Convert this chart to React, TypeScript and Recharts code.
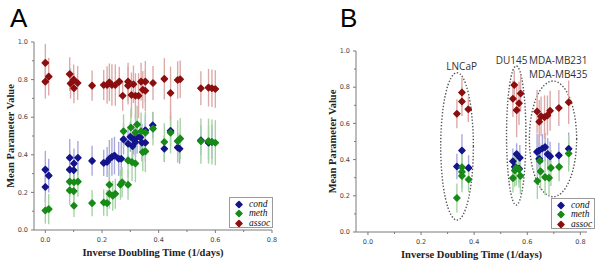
import React from 'react';
import { ScatterChart, Scatter, XAxis, YAxis, ErrorBar, Legend, ReferenceArea, ReferenceDot } from 'recharts';

// ---- Panel A: all cell lines ----
const condXA = [0.0, 0.0, 0.012, 0.086, 0.086, 0.1, 0.101, 0.115, 0.165, 0.206, 0.218, 0.226, 0.235, 0.244, 0.259, 0.268, 0.276, 0.292, 0.3, 0.308, 0.312, 0.318, 0.324, 0.335, 0.341, 0.353, 0.353, 0.379, 0.42, 0.442, 0.467, 0.474, 0.549, 0.576, 0.588];
const condYA = [0.321, 0.229, 0.289, 0.321, 0.384, 0.318, 0.354, 0.384, 0.368, 0.357, 0.362, 0.379, 0.389, 0.396, 0.379, 0.379, 0.482, 0.459, 0.496, 0.446, 0.482, 0.468, 0.496, 0.493, 0.464, 0.464, 0.53, 0.557, 0.432, 0.527, 0.439, 0.432, 0.477, 0.464, 0.468];
const condErrA = [0.1, 0.08, 0.09, 0.1, 0.1, 0.08, 0.08, 0.09, 0.08, 0.07, 0.08, 0.1, 0.1, 0.1, 0.09, 0.09, 0.08, 0.09, 0.08, 0.07, 0.08, 0.08, 0.09, 0.08, 0.1, 0.1, 0.08, 0.07, 0.07, 0.08, 0.08, 0.08, 0.08, 0.09, 0.09];

const methXA = [0.0, 0.012, 0.086, 0.086, 0.101, 0.1, 0.101, 0.115, 0.165, 0.206, 0.218, 0.226, 0.226, 0.238, 0.247, 0.265, 0.271, 0.276, 0.292, 0.292, 0.302, 0.306, 0.318, 0.318, 0.324, 0.338, 0.344, 0.353, 0.353, 0.38, 0.42, 0.442, 0.467, 0.476, 0.549, 0.576, 0.588, 0.6];
const methYA = [0.104, 0.111, 0.211, 0.257, 0.254, 0.207, 0.129, 0.257, 0.143, 0.146, 0.143, 0.241, 0.193, 0.182, 0.193, 0.241, 0.254, 0.525, 0.241, 0.37, 0.545, 0.361, 0.354, 0.518, 0.561, 0.525, 0.414, 0.518, 0.418, 0.539, 0.468, 0.518, 0.473, 0.486, 0.473, 0.473, 0.468, 0.464];
const methErrA = [0.07, 0.08, 0.08, 0.08, 0.08, 0.08, 0.06, 0.08, 0.07, 0.07, 0.07, 0.08, 0.08, 0.08, 0.08, 0.08, 0.08, 0.09, 0.08, 0.09, 0.1, 0.1, 0.1, 0.1, 0.1, 0.1, 0.1, 0.11, 0.11, 0.09, 0.1, 0.11, 0.11, 0.11, 0.12, 0.12, 0.12, 0.12];

const assocXA = [0.0, 0.0, 0.012, 0.086, 0.089, 0.1, 0.101, 0.114, 0.165, 0.206, 0.218, 0.226, 0.235, 0.247, 0.261, 0.273, 0.292, 0.292, 0.304, 0.311, 0.318, 0.329, 0.338, 0.344, 0.353, 0.353, 0.38, 0.42, 0.442, 0.467, 0.476, 0.549, 0.576, 0.588, 0.6];
const assocYA = [0.889, 0.789, 0.816, 0.829, 0.779, 0.8, 0.754, 0.782, 0.768, 0.771, 0.771, 0.786, 0.771, 0.771, 0.789, 0.714, 0.789, 0.768, 0.718, 0.775, 0.714, 0.714, 0.789, 0.746, 0.789, 0.741, 0.782, 0.804, 0.729, 0.798, 0.802, 0.754, 0.757, 0.754, 0.75];
const assocErrA = [0.1, 0.09, 0.1, 0.09, 0.08, 0.08, 0.08, 0.09, 0.08, 0.08, 0.1, 0.1, 0.11, 0.11, 0.08, 0.08, 0.1, 0.1, 0.12, 0.1, 0.12, 0.12, 0.1, 0.1, 0.11, 0.11, 0.09, 0.11, 0.14, 0.1, 0.1, 0.09, 0.1, 0.1, 0.1];

// ---- Panel B: prostate and breast lines ----
const condXB = [0.335, 0.354, 0.379, 0.546, 0.553, 0.56, 0.569, 0.572, 0.637, 0.645, 0.645, 0.657, 0.667, 0.677, 0.686, 0.719, 0.756];
const condYB = [0.362, 0.45, 0.354, 0.391, 0.36, 0.43, 0.35, 0.41, 0.443, 0.45, 0.404, 0.461, 0.469, 0.43, 0.418, 0.423, 0.46];
const condErrB = [0.07, 0.09, 0.07, 0.07, 0.08, 0.06, 0.08, 0.07, 0.1, 0.09, 0.09, 0.08, 0.08, 0.09, 0.08, 0.07, 0.09];

const methXB = [0.335, 0.354, 0.354, 0.354, 0.379, 0.546, 0.553, 0.559, 0.569, 0.574, 0.638, 0.647, 0.65, 0.667, 0.682, 0.689, 0.72, 0.756];
const methYB = [0.188, 0.358, 0.332, 0.31, 0.29, 0.298, 0.34, 0.356, 0.345, 0.31, 0.282, 0.393, 0.335, 0.303, 0.299, 0.354, 0.36, 0.434];
const methErrB = [0.08, 0.09, 0.09, 0.09, 0.07, 0.08, 0.09, 0.1, 0.1, 0.1, 0.1, 0.1, 0.1, 0.1, 0.1, 0.1, 0.08, 0.1];

const assocXB = [0.335, 0.354, 0.354, 0.378, 0.546, 0.551, 0.56, 0.569, 0.575, 0.637, 0.645, 0.652, 0.665, 0.676, 0.686, 0.719, 0.756];
const assocYB = [0.653, 0.721, 0.771, 0.678, 0.736, 0.812, 0.673, 0.711, 0.765, 0.666, 0.609, 0.639, 0.635, 0.644, 0.67, 0.685, 0.717];
const assocErrB = [0.08, 0.08, 0.08, 0.07, 0.1, 0.08, 0.15, 0.12, 0.1, 0.12, 0.12, 0.11, 0.12, 0.11, 0.11, 0.1, 0.12];

// dotted groupings in panel B
const groupX1 = [0.274, 0.522, 0.608];
const groupX2 = [0.397, 0.595, 0.786];
const groupY1 = [0.066, 0.149, 0.195];
const groupY2 = [0.88, 0.917, 0.834];

const groupLabels = ['LNCaP', 'DU145', 'MDA-MB231', 'MDA-MB435'];
const groupLabelX = [0.353, 0.541, 0.717, 0.717];
const groupLabelY = [0.913, 0.95, 0.95, 0.873];

const seriesNames = ['cond', 'meth', 'assoc'];
const xTicks = [0, 0.1, 0.2, 0.3, 0.4, 0.5, 0.6, 0.7, 0.8];
const yTicks = [0, 0.1, 0.2, 0.3, 0.4, 0.5, 0.6, 0.7, 0.8, 0.9, 1.0];

const COLORS: Record<string, string> = { cond: '#14148c', meth: '#178a17', assoc: '#8c0e0e' };
const BAR_COLORS: Record<string, string> = { cond: '#a9a9de', meth: '#a6d3a6', assoc: '#ddaaaa' };
const AXIS = '#7a7a7a';
const TICK_SIZE = 3;
const X_MARGIN = 4;
const Y_MARGIN = 3;

const toPoints = (xs: number[], ys: number[], es: number[]) => xs.map((x, i) => ({ x, y: ys[i], e: es[i] }));

const Diamond = (props: any) => {
    const { cx, cy, fill } = props;
    const r = 3;
    return (
        <polygon
            points={`${cx},${cy - r} ${cx + r},${cy} ${cx},${cy + r} ${cx - r},${cy}`}
            fill={fill}
            stroke={fill}
            strokeWidth={1.6}
            strokeLinejoin="round"
        />
    );
};

const XTick = (props: any) => {
    const { x, y, payload } = props;
    const major = Math.round(payload.value * 10) % 2 === 0;
    const ay = y - TICK_SIZE - X_MARGIN;
    return (
        <g>
            <line x1={x} x2={x} y1={ay} y2={ay + (major ? 3 : 2)} stroke={AXIS} />
            {major && (
                <text x={x} y={y} dy="0.71em" textAnchor="middle" fill="#444" fontSize={6.5} fontFamily="DejaVu Sans">
                    {payload.value.toFixed(1)}
                </text>
            )}
        </g>
    );
};

const YTick = (props: any) => {
    const { x, y, payload } = props;
    const major = Math.round(payload.value * 10) % 2 === 0;
    const ax = x + TICK_SIZE + Y_MARGIN;
    return (
        <g>
            <line x1={ax - (major ? 3 : 2)} x2={ax} y1={y} y2={y} stroke={AXIS} />
            {major && (
                <text x={x} y={y} dy="0.35em" textAnchor="end" fill="#444" fontSize={6.5} fontFamily="DejaVu Sans">
                    {payload.value.toFixed(1)}
                </text>
            )}
        </g>
    );
};

const axisTitle = { fontFamily: 'Liberation Serif', fontWeight: 'bold' as const, fontSize: 10.5, fill: '#222' };

const XTitle = (props: any) => {
    const { viewBox } = props;
    return (
        <text x={viewBox.x + viewBox.width / 2} y={viewBox.y + 26} textAnchor="middle" {...axisTitle}>
            Inverse Doubling Time (1/days)
        </text>
    );
};

const YTitle = (props: any) => {
    const { viewBox } = props;
    const cx = viewBox.x + viewBox.width - 24;
    const cy = viewBox.y + viewBox.height / 2;
    return (
        <text x={cx} y={cy} dy="0.35em" textAnchor="middle" transform={`rotate(-90, ${cx}, ${cy})`} {...axisTitle}>
            Mean Parameter Value
        </text>
    );
};

const LegendBox = (props: any) => {
    const items = seriesNames.map((n) => (props.payload || []).find((p: any) => p.value === n)).filter(Boolean);
    return (
        <div style={{ border: '1px solid #9a9a9a', background: '#fff', width: 44, height: 31, boxSizing: 'border-box', paddingTop: 2 }}>
            {items.map((entry: any) => (
                <div key={entry.value} style={{ display: 'flex', alignItems: 'center', height: 9.3 }}>
                    <svg width={16} height={9} style={{ flex: 'none' }}>
                        <polygon points="9,1.5 12,4.5 9,7.5 6,4.5" fill={entry.color} stroke={entry.color} strokeWidth={1.6} strokeLinejoin="round" />
                    </svg>
                    <span style={{ fontFamily: 'Liberation Serif', fontStyle: 'italic', fontSize: 9.5, lineHeight: '9px', color: '#111', marginLeft: 3 }}>
                        {entry.value}
                    </span>
                </div>
            ))}
        </div>
    );
};

type PanelProps = {
    data: { name: string; points: { x: number; y: number; e: number }[] }[];
    xDomain: [number, number];
    margin: { top: number; right: number; bottom: number; left: number };
    legendPos: { left: number; top: number };
    groups?: boolean;
};

const Panel: React.FC<PanelProps> = ({ data, xDomain, margin, legendPos, groups }) => (
    <ScatterChart width={300} height={263} margin={margin}>
        <XAxis
            type="number"
            dataKey="x"
            domain={xDomain}
            ticks={xTicks}
            allowDataOverflow
            height={30}
            stroke={AXIS}
            tickLine={false}
            tickSize={TICK_SIZE}
            tickMargin={X_MARGIN}
            tick={<XTick />}
            interval={0}
            label={XTitle}
        />
        <YAxis
            type="number"
            dataKey="y"
            domain={[0, 1]}
            ticks={yTicks}
            width={34}
            stroke={AXIS}
            tickLine={false}
            tickSize={TICK_SIZE}
            tickMargin={Y_MARGIN}
            tick={<YTick />}
            interval={0}
            label={YTitle}
        />
        {groups &&
            groupX1.map((x1, i) => (
                <ReferenceArea
                    key={`g${i}`}
                    x1={x1}
                    x2={groupX2[i]}
                    y1={groupY1[i]}
                    y2={groupY2[i]}
                    shape={(p: any) => (
                        <ellipse
                            cx={p.x + p.width / 2}
                            cy={p.y + p.height / 2}
                            rx={p.width / 2}
                            ry={p.height / 2}
                            fill="none"
                            stroke="#555"
                            strokeWidth={1.4}
                            strokeDasharray="1.4 1.8"
                        />
                    )}
                />
            ))}
        {groups &&
            groupLabels.map((t, i) => (
                <ReferenceDot
                    key={`l${i}`}
                    x={groupLabelX[i]}
                    y={groupLabelY[i]}
                    r={0}
                    fill="none"
                    stroke="none"
                    label={{ value: t, position: 'center', fill: '#333', fontSize: 10, fontFamily: 'Open Sans' }}
                />
            ))}
        {data.map((s) => (
            <Scatter key={s.name} name={s.name} data={s.points} fill={COLORS[s.name]} shape={Diamond} isAnimationActive={false}>
                <ErrorBar dataKey="e" direction="y" width={0} stroke={BAR_COLORS[s.name]} strokeWidth={1.4} isAnimationActive={false} />
            </Scatter>
        ))}
        <Legend
            layout="horizontal"
            align="center"
            verticalAlign="middle"
            content={LegendBox}
            wrapperStyle={{ left: legendPos.left, top: legendPos.top, width: 44, height: 31 }}
        />
    </ScatterChart>
);

const panelA = [
    { name: 'cond', points: toPoints(condXA, condYA, condErrA) },
    { name: 'meth', points: toPoints(methXA, methYA, methErrA) },
    { name: 'assoc', points: toPoints(assocXA, assocYA, assocErrA) },
];

const panelB = [
    { name: 'cond', points: toPoints(condXB, condYB, condErrB) },
    { name: 'meth', points: toPoints(methXB, methYB, methErrB) },
    { name: 'assoc', points: toPoints(assocXB, assocYB, assocErrB) },
];

const letterStyle: React.CSSProperties = {
    position: 'absolute',
    top: 5,
    fontFamily: 'Liberation Sans',
    fontSize: 26,
    lineHeight: '26px',
    color: '#000',
};

export default function App() {
    return (
        <div style={{ position: 'absolute', left: 0, top: 0, width: 600, height: 263, background: '#fff', display: 'flex' }}>
            <Panel data={panelA} xDomain={[-0.04, 0.8]} margin={{ top: 42, right: 28, bottom: 3, left: 0 }} legendPos={{ left: 229, top: 197 }} />
            <Panel data={panelB} xDomain={[-0.045, 0.825]} margin={{ top: 51, right: 13, bottom: 1, left: 22 }} legendPos={{ left: 251, top: 198 }} groups />
            <div style={{ ...letterStyle, left: 10 }}>A</div>
            <div style={{ ...letterStyle, left: 340 }}>B</div>
        </div>
    );
}
